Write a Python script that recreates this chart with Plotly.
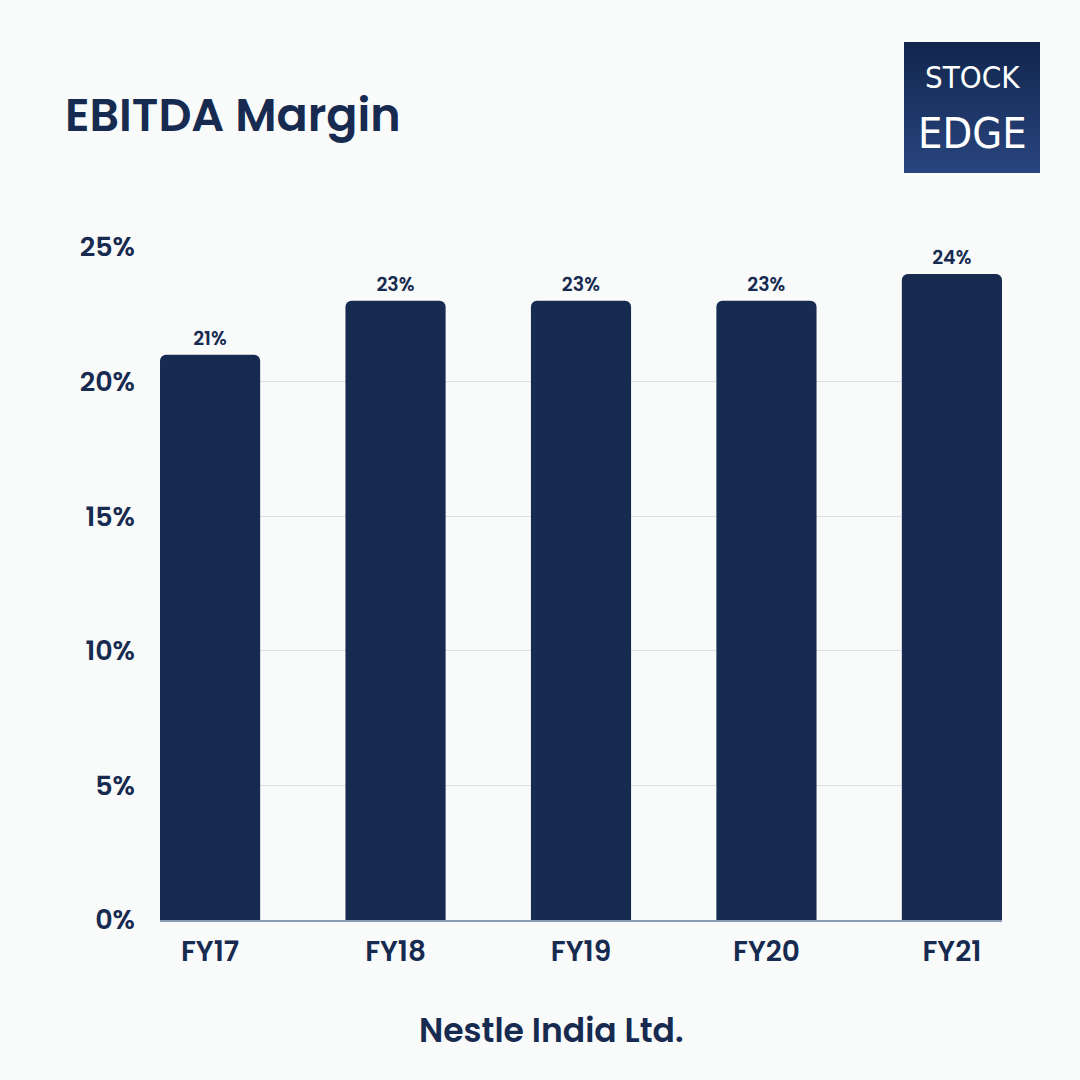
import base64
import plotly.graph_objects as go

categories = ["FY17", "FY18", "FY19", "FY20", "FY21"]
ebitda_margin = [21, 23, 23, 23, 24]
value_labels = ["21%", "23%", "23%", "23%", "24%"]
y_ticks = [0, 5, 10, 15, 20, 25]
y_tick_labels = ["0%", "5%", "10%", "15%", "20%", "25%"]

NAVY = "#172a50"
BG = "#f9fbfb"
FONT = "Poppins, Inter, Open Sans, sans-serif"
LOGO_FONT = "Liberation Sans Narrow, DejaVu Sans Condensed, DejaVu Sans"

fig = go.Figure()
fig.add_trace(go.Bar(
    x=categories, y=ebitda_margin,
    marker=dict(color=NAVY, cornerradius=6, line=dict(width=0)),
    text=value_labels, textposition="outside", cliponaxis=False,
    textfont=dict(family=FONT, size=19, color=NAVY, weight=600),
    width=0.54,
))

svg = ('<svg xmlns="http://www.w3.org/2000/svg" width="136" height="131">'
       '<defs><linearGradient id="g" x1="0" y1="0" x2="0" y2="1">'
       '<stop offset="0" stop-color="#11264d"/><stop offset="1" stop-color="#29457f"/>'
       '</linearGradient></defs><rect width="136" height="131" fill="url(#g)"/></svg>')
src = "data:image/svg+xml;base64," + base64.b64encode(svg.encode()).decode()

W = 842
H = 673

fig.update_layout(
    width=1080, height=1080,
    paper_bgcolor=BG, plot_bgcolor=BG,
    margin=dict(l=160, r=78, t=247, b=160),
    showlegend=False,
    bargap=0.46,
    xaxis=dict(
        range=[-0.27, 4.27], showgrid=False, ticks="",
        showline=True, linecolor="#8a9bb5", linewidth=1.5,
        tickfont=dict(family=FONT, size=28, color=NAVY, weight=600),
        ticklabelstandoff=6, zeroline=False,
    ),
    yaxis=dict(
        range=[0, 25], tickvals=y_ticks, ticktext=y_tick_labels,
        showgrid=True, gridcolor="#dcdfe3", gridwidth=1, zeroline=False,
        tickfont=dict(family=FONT, size=27, color=NAVY, weight=600),
        ticklabelstandoff=24, ticks="",
    ),
    images=[dict(source=src, xref="paper", yref="paper", xanchor="left", yanchor="top",
                 x=(904 - 160) / W, y=1 + (247 - 42) / H,
                 sizex=136 / W, sizey=131 / H, sizing="stretch", layer="above")],
    annotations=[
        dict(text="EBITDA Margin", xref="paper", yref="paper", x=(63 - 160) / W,
             y=1 + (247 - 115) / H, xanchor="left", yanchor="middle", showarrow=False,
             font=dict(family=FONT, size=46, color=NAVY, weight=600)),
        dict(text="Nestle India Ltd.", xref="paper", yref="paper", x=(551 - 160) / W,
             y=-(1030 - 920) / H, xanchor="center", yanchor="middle", showarrow=False,
             font=dict(family=FONT, size=33, color=NAVY, weight=600)),
        dict(text="STOCK", xref="paper", yref="paper", x=(972 - 160) / W,
             y=1 + (247 - 77) / H, xanchor="center", yanchor="middle", showarrow=False,
             font=dict(family=LOGO_FONT, size=31, color="white")),
        dict(text="EDGE", xref="paper", yref="paper", x=(972 - 160) / W,
             y=1 + (247 - 133) / H, xanchor="center", yanchor="middle", showarrow=False,
             font=dict(family=LOGO_FONT, size=43, color="white")),
    ],
)

fig.write_html("out.html", config={"displayModeBar": False},
               post_script="document.body.style.margin='0';document.body.style.padding='0';")
